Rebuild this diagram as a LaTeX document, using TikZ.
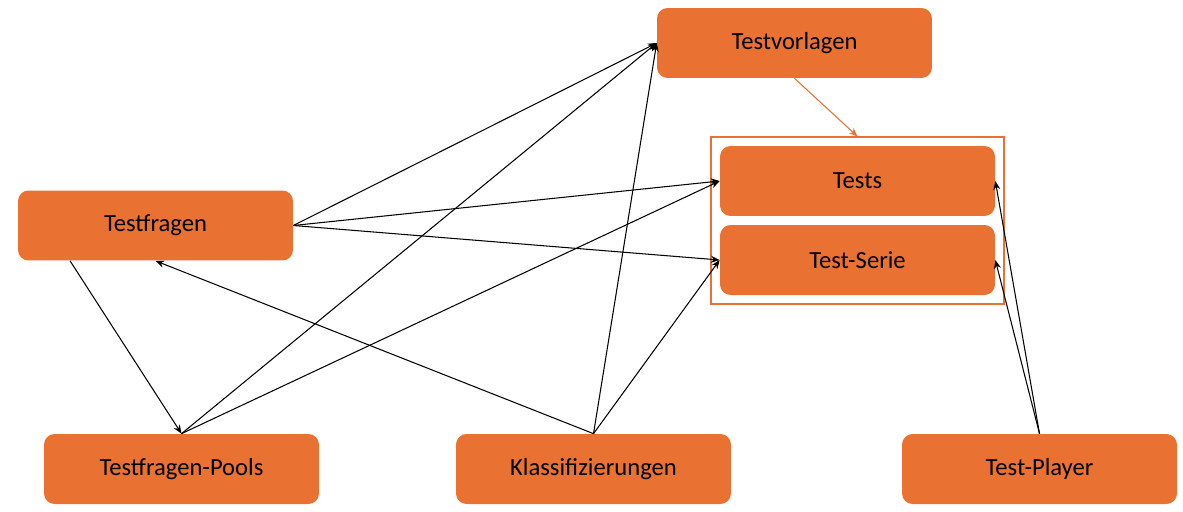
\documentclass[tikz,border=0pt]{standalone}
\usepackage{fontspec}
\setmainfont{Carlito}
\usetikzlibrary{arrows.meta,calc,fit}
\definecolor{boxorange}{HTML}{E97132}
\tikzset{
  box/.style={fill=boxorange, rounded corners=6pt, minimum width=5.5cm, minimum height=1.4cm, font=\fontsize{14}{16}\selectfont, inner sep=0pt},
  link/.style={semithick, -{Stealth[length=5pt,width=4pt]}},
}
\begin{document}
\begin{tikzpicture}[x=0.02cm,y=-0.02cm]
    \useasboundingbox (0,0) rectangle (1183,511);
    % boxes
    \node[box] (vorlagen) at (794.5,43) {Testvorlagen};
    \node[box] (tests) at (857.5,181) {Tests};
    \node[box] (serie) at (857.5,260) {Test-Serie};
    \node[box] (fragen) at (155.5,225.5) {Testfragen};
    \node[box] (pools) at (181.5,469) {Testfragen-Pools};
    \node[box] (klass) at (593.5,469) {Klassifizierungen};
    \node[box] (player) at (1039.5,469) {Test-Player};
    \node[draw=boxorange, thick, fit=(tests)(serie), inner sep=0.17cm] (frame) {};

    \draw[link, boxorange] (vorlagen.south) -- (frame.north);
    % Testfragen
    \draw[link] (fragen.east) -- (vorlagen.west);
    \draw[link] (fragen.east) -- (tests.west);
    \draw[link] (fragen.east) -- (serie.west);
    \draw[link] ($(fragen.south west)!0.19!(fragen.south east)$) -- (pools.north);
    % Pools
    \draw[link] (pools.north) -- (vorlagen.west);
    \draw[link] (pools.north) -- (tests.west);
    % Klassifizierungen
    \draw[link] (klass.north) -- (fragen.south);
    \draw[link] (klass.north) -- (vorlagen.west);
    \draw[link] (klass.north) -- (serie.west);
    % Player
    \draw[link] (player.north) -- (tests.east);
    \draw[link] (player.north) -- (serie.east);
\end{tikzpicture}
\end{document}
